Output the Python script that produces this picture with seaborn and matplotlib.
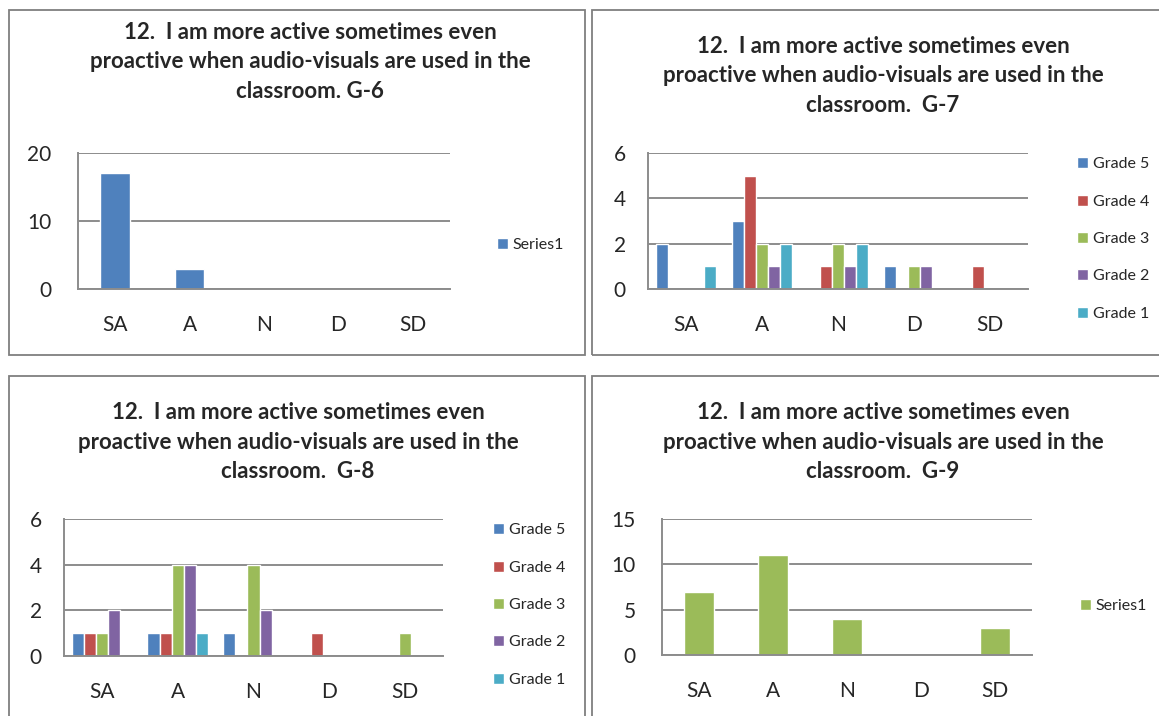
import matplotlib
matplotlib.use("Agg")
import matplotlib.pyplot as plt
from matplotlib.patches import Rectangle
import seaborn as sns
import pandas as pd

# ---- data ----
responses = ["SA", "A", "N", "D", "SD"]
grades = ["Grade 5", "Grade 4", "Grade 3", "Grade 2", "Grade 1"]

g6_values = [17, 3, 0, 0, 0]
g9_values = [7, 11, 4, 0, 3]

# rows = responses, columns = Grade 5 .. Grade 1
g7_values = [
    [2, 0, 0, 0, 1],
    [3, 5, 2, 1, 2],
    [0, 1, 2, 1, 2],
    [1, 0, 1, 1, 0],
    [0, 1, 0, 0, 0],
]
g8_values = [
    [1, 1, 1, 2, 0],
    [1, 1, 4, 4, 1],
    [1, 0, 4, 2, 0],
    [0, 1, 0, 0, 0],
    [0, 0, 1, 0, 0],
]

grade_colors = ["#4F81BD", "#C0504D", "#9BBB59", "#8064A2", "#4BACC6"]
title_text = ("12.  I am more active sometimes even\n"
              "proactive when audio-visuals are used in the\n"
              "classroom. {}")

W, H = 1159, 716
sns.set_style("white")
plt.rcParams["font.family"] = ["Lato", "DejaVu Sans"]

fig = plt.figure(figsize=(W / 100, H / 100), dpi=100)


def fx(px):
    return px / W


def fy(py):
    return 1 - py / H


def long_table(values):
    rows = []
    for resp, vals in zip(responses, values):
        for grade, v in zip(grades, vals):
            rows.append({"response": resp, "grade": grade, "count": v})
    return pd.DataFrame(rows)


def add_axes(left, top, right, bottom):
    return fig.add_axes([fx(left), fy(bottom), fx(right - left), (bottom - top) / H])


def style_axes(ax, ymax, step, ypad):
    ax.set_ylim(0, ymax)
    ax.set_yticks(range(0, ymax + 1, step))
    ax.set_xlim(-0.5, 4.5)
    ax.set_xlabel("")
    ax.set_ylabel("")
    ax.yaxis.grid(True, color="#8C8C8C", linewidth=1.4)
    ax.set_axisbelow(True)
    for s in ["top", "right"]:
        ax.spines[s].set_visible(False)
    for s in ["left", "bottom"]:
        ax.spines[s].set_color("#8C8C8C")
        ax.spines[s].set_linewidth(1.4)
    ax.tick_params(axis="x", length=0, pad=19, labelsize=15)
    ax.tick_params(axis="y", length=0, pad=ypad, labelsize=15)


def panel_box(left, top, right, bottom):
    fig.patches.append(Rectangle((fx(left), fy(bottom)), fx(right - left), (bottom - top) / H,
                                 transform=fig.transFigure, fill=False,
                                 edgecolor="#7F7F7F", linewidth=1.3))


def add_legend(ax, x_px, y_px, spacing):
    ax.legend(loc="center left", bbox_to_anchor=(fx(x_px), fy(y_px)),
              bbox_transform=fig.transFigure, frameon=False, fontsize=11.5,
              handlelength=0.7, handleheight=0.7, handletextpad=0.3,
              labelspacing=spacing, borderpad=0)


# panel borders
panel_box(9, 10, 585, 355)
panel_box(592, 10, 1165, 355)
panel_box(9, 376, 585, 730)
panel_box(592, 376, 1165, 730)

# ---- G-6 ----
ax1 = add_axes(78, 153, 450, 289)
df6 = pd.DataFrame({"response": responses, "count": g6_values})
sns.barplot(data=df6, x="response", y="count", color=grade_colors[0],
            width=0.4, saturation=1, label="Series1", ax=ax1)
style_axes(ax1, 20, 10, 19)
add_legend(ax1, 489, 245, 0.5)

# ---- G-7 ----
ax2 = add_axes(648, 153, 1028, 289)
sns.barplot(data=long_table(g7_values), x="response", y="count", hue="grade",
            hue_order=grades, palette=grade_colors, width=0.8, saturation=1, ax=ax2)
style_axes(ax2, 6, 2, 16)
add_legend(ax2, 1069, 239, 1.45)

# ---- G-8 ----
ax3 = add_axes(64, 519, 443, 656)
sns.barplot(data=long_table(g8_values), x="response", y="count", hue="grade",
            hue_order=grades, palette=grade_colors, width=0.8, saturation=1, ax=ax3)
style_axes(ax3, 6, 2, 16)
add_legend(ax3, 485, 605, 1.45)

# ---- G-9 ----
ax4 = add_axes(662, 519, 1032, 655)
df9 = pd.DataFrame({"response": responses, "count": g9_values})
sns.barplot(data=df9, x="response", y="count", color=grade_colors[2],
            width=0.4, saturation=1, label="Series1", ax=ax4)
style_axes(ax4, 15, 5, 19)
add_legend(ax4, 1072, 606, 0.5)

# titles
for cx, cy, tag in [(310, 62, "G-6"), (883, 76, " G-7"), (298, 442, " G-8"), (883, 442, " G-9")]:
    fig.text(fx(cx), fy(cy), title_text.format(tag), ha="center", va="center",
             fontsize=16, fontweight="bold", linespacing=1.5)

fig.savefig("out.png", dpi=100)
